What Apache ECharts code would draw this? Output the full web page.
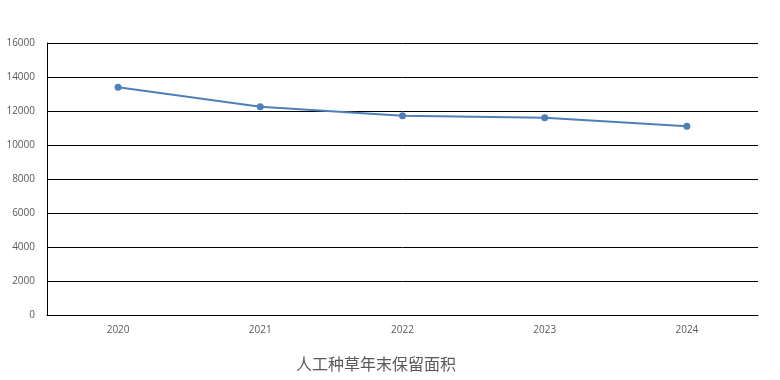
<!DOCTYPE html>
<html><head><meta charset="utf-8">
<script src="https://cdn.jsdelivr.net/npm/echarts@6/dist/echarts.min.js"></script>
<style>html,body{margin:0;padding:0;background:#fff}#c{width:780px;height:380px}</style>
</head><body><div id="c"></div>
<script>
var categories = ['2020','2021','2022','2023','2024'];
var values = [13400, 12250, 11720, 11600, 11100];
var titleText = '人工种草年末保留面积';
var chart = echarts.init(document.getElementById('c'));
chart.setOption({
  animation: false,
  title: {text: titleText, left: 291, top: 351, textStyle: {fontFamily: 'Noto Sans CJK SC', fontSize: 16, fontWeight: 'normal', color: '#595959'}},
  grid: {left: 47, right: 22, top: 43, bottom: 65},
  xAxis: {type: 'category', data: categories, boundaryGap: true,
    axisLine: {lineStyle: {color: '#000', width: 1}}, axisTick: {show: false},
    axisLabel: {color: '#595959', fontSize: 10, margin: 10, fontFamily: 'Open Sans'}},
  yAxis: {type: 'value', min: 0, max: 16000, interval: 2000,
    axisLine: {show: true, lineStyle: {color: '#000', width: 1}}, axisTick: {show: false},
    splitLine: {lineStyle: {color: '#000', width: 1}},
    axisLabel: {color: '#595959', fontSize: 10, margin: 12, fontFamily: 'Open Sans', formatter: function(v){return String(v);}}},
  series: [{type: 'line', data: values, symbol: 'circle', symbolSize: 7,
    lineStyle: {color: '#4F7FB8', width: 2}, itemStyle: {color: '#4F7FB8'}}]
});
</script></body></html>
